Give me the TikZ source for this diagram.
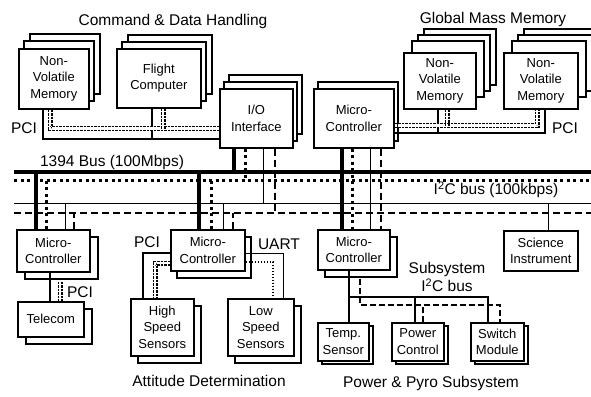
\documentclass[tikz,border=0pt]{standalone}
\usepackage{fontspec}
\setmainfont{Liberation Sans}
\usetikzlibrary{calc}
\newcommand\stackbox[7]{%
  \foreach \dx/\dy in {#6}{\draw[backbox, shift={(\dx,\dy)}] (#2,#3) rectangle ++(#4,#5);}
  \node[box, minimum width=#4pt, minimum height=#5pt, anchor=north west] (#1) at (#2,#3) {#7};
}
\newcommand\vdrop[4]{\path ([xshift=#3pt]#2) coordinate (tmpa); \draw[#1] (tmpa) -- (tmpa |- #4);}
\begin{document}
\begin{tikzpicture}[x=1pt,y=-1pt,
  box/.style={draw, line width=1.6pt, fill=white, inner sep=0pt, align=center, font=\fontsize{13}{16.5}\selectfont},
  backbox/.style={draw, line width=1.6pt, fill=white},
  lbl/.style={font=\fontsize{15.5}{18}\selectfont, inner sep=0pt, align=center},
  fw/.style={line width=3.2pt},
  fwdot/.style={line width=3pt, dash pattern=on 3pt off 3.5pt},
  ithin/.style={line width=1pt},
  idash/.style={line width=1.2pt, dash pattern=on 7pt off 4pt},
  pci/.style={line width=1.8pt},
  hatch/.style={line width=1.3pt, double, double distance=2.4pt, dash pattern=on 2.5pt off 1pt},
  uart/.style={line width=1pt},
  uartdot/.style={line width=1.4pt, dash pattern=on 1.5pt off 1.5pt},
  sub/.style={line width=1.1pt},
  subdash/.style={line width=1.4pt, dash pattern=on 6pt off 3pt},
]
\fill[white] (0,0) rectangle (591,396);
\useasboundingbox (0,0) rectangle (591,396);

% boxes
\stackbox{cnvm}{18}{48}{70}{60}{12/-14,6/-7}{Non-\\Volatile\\Memory}
\stackbox{fc}{116}{48}{84}{59}{12/-13,6/-6}{Flight\\Computer}
\stackbox{io}{219}{88}{73}{59}{10/-13,5/-6}{I/O\\Interface}
\stackbox{gmc}{313}{88}{80}{59}{5/-6}{Micro-\\Controller}
\stackbox{gnvm1}{403}{52}{72}{56}{21/-23,15/-17,9/-11}{Non-\\Volatile\\Memory}
\stackbox{gnvm2}{503}{52}{74}{56}{21/-23,15/-17,9/-11}{Non-\\Volatile\\Memory}
\stackbox{lmc}{16}{229}{73}{42}{9/8}{Micro-\\Controller}
\stackbox{tel}{17}{301}{66}{35}{9/8}{Telecom}
\stackbox{amc}{170}{229}{74}{41}{7/8}{Micro-\\Controller}
\stackbox{hss}{130}{298}{63}{57}{8/8}{High\\Speed\\Sensors}
\stackbox{lss}{227}{298}{66}{57}{8/8}{Low\\Speed\\Sensors}
\stackbox{pmc}{317}{229}{72}{40}{8/8}{Micro-\\Controller}
\node[box, minimum width=74pt, minimum height=40pt, anchor=north west] (sci) at (503,230) {Science\\Instrument};
\stackbox{ts}{317}{322}{51}{38}{5/4}{Temp.\\Sensor}
\stackbox{pc}{391}{322}{52}{38}{5/4}{Power\\Control}
\stackbox{sw}{470}{322}{53}{38}{5/4}{Switch\\Module}

% buses
\coordinate (b1L) at (14,172); \coordinate (b1R) at (591,172);
\coordinate (b2L) at (14,180); \coordinate (b2R) at (591,180);
\coordinate (b3L) at (14,203); \coordinate (b3R) at (591,203);
\coordinate (b4L) at (14,213); \coordinate (b4R) at (591,213);
\draw[fw] (b1L) -- (b1R);
\draw[fwdot] (b2L) -- (b2R);
\draw[ithin] (b3L) -- (b3R);
\draw[idash] (b4L) -- (b4R);

% drops to buses
\vdrop{fw}{lmc.north west}{20}{b1L}
\vdrop{fwdot}{lmc.north west}{30}{b2L}
\vdrop{ithin}{lmc.north west}{49}{b3L}
\vdrop{idash}{lmc.north west}{58}{b4L}
\vdrop{fw}{amc.north west}{29}{b1L}
\vdrop{fwdot}{amc.north west}{41}{b2L}
\vdrop{ithin}{amc.north west}{53}{b3L}
\vdrop{idash}{amc.north west}{63}{b4L}
\vdrop{fw}{io.south west}{15}{b1L}
\vdrop{fwdot}{io.south west}{26}{b2L}
\vdrop{ithin}{io.south west}{44}{b3L}
\vdrop{idash}{io.south west}{56}{b4L}
\vdrop{fw}{gmc.south west}{29}{pmc.north}
\vdrop{fwdot}{gmc.south west}{39}{pmc.north}
\vdrop{ithin}{gmc.south west}{57}{pmc.north}
\vdrop{idash}{gmc.south west}{68}{pmc.north}
\vdrop{ithin}{sci.north west}{45}{b3L}

% CDH PCI
\coordinate (cpci) at ([yshift=10pt]io.south west);
\path ([xshift=25pt]cnvm.south west) coordinate (p);
\draw[pci] (p) |- (cpci);
\vdrop{pci}{fc.south west}{36}{cpci}
\coordinate (chat) at ([yshift=20pt]io.south west);
\path ([xshift=32pt]cnvm.south west) coordinate (p);
\draw[hatch] (p) |- (chat);
\vdrop{hatch}{fc.south west}{47}{chat}

% GMM PCI
\coordinate (gpci) at ([yshift=16pt]gmc.south east);
\draw[pci] (gpci) -| ([xshift=42pt]gnvm2.south west);
\vdrop{pci}{gnvm1.south west}{35}{gpci}
\coordinate (ghat) at ([yshift=23pt]gmc.south east);
\draw[hatch] (ghat) -| ([xshift=34pt]gnvm2.south west);
\vdrop{hatch}{gnvm1.south west}{44}{ghat}

% Attitude
\draw[pci] ([yshift=-24pt]amc.north west) -| ([xshift=13pt]hss.north west);
\draw[hatch] ([yshift=-34pt]amc.north west) -| ([xshift=25pt]hss.north west);
\draw[uart] ([yshift=-24pt]amc.north east) -| ([xshift=56pt]lss.north west);
\draw[uartdot] ([yshift=-33pt]amc.north east) -| ([xshift=46pt]lss.north west);

% Telecom
\vdrop{pci}{lmc.south west}{34}{tel.north}
\path ([xshift=44pt,yshift=-9pt]lmc.south west) coordinate (p);
\draw[hatch] (p) -- (p |- tel.north);

% Power subsystem
\coordinate (sb) at ([yshift=25pt]ts.north west);
\draw[sub] ([xshift=32pt]pmc.south west) -- ([xshift=32pt]ts.north west);
\path ([xshift=32pt]ts.north west) coordinate (p);
\draw[sub] (p |- sb) -| ([xshift=18pt]sw.north west);
\vdrop{sub}{pc.north west}{24}{sb}
\coordinate (sd) at ([yshift=17pt]ts.north west);
\path ([xshift=43pt,yshift=-8pt]pmc.south west) coordinate (p);
\path ([xshift=30pt]sw.north west) coordinate (q);
\draw[subdash] (p) |- (q |- sd) -- (q);
\vdrop{subdash}{pc.north west}{32}{sd}

% labels
\node[lbl] (tcdh) at (173,21) {Command \& Data Handling};
\node[lbl] (tgmm) at (493,19) {Global Mass Memory};
\node[lbl] (t1394) at (112,162) {1394 Bus (100Mbps)};
\node[lbl] (ti2c) at (496,190) {I\textsuperscript{2}C bus (100kbps)};
\node[lbl] (pci1) at (24,128) {PCI};
\node[lbl] (pci2) at (565,128) {PCI};
\node[lbl] (pci3) at (147,242) {PCI};
\node[lbl] (uartl) at (279,244) {UART};
\node[lbl] (pci4) at (80,292) {PCI};
\node[lbl] (tsub) at (447,277) {Subsystem\\I\textsuperscript{2}C bus};
\node[lbl] (tatt) at (209,381) {Attitude Determination};
\node[lbl] (tpow) at (431,383) {Power \& Pyro Subsystem};
\end{tikzpicture}
\end{document}
